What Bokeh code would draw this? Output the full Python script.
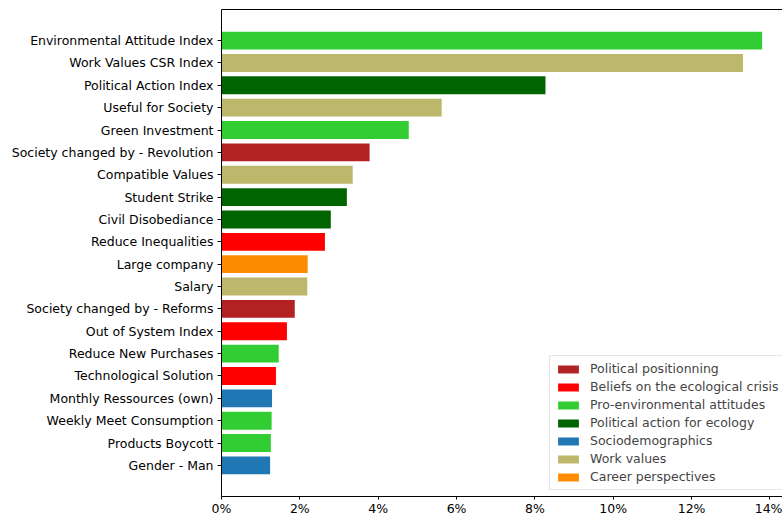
from bokeh.plotting import figure
from bokeh.models import FactorRange, Range1d, FixedTicker, PrintfTickFormatter, LinearAxis, Legend, LegendItem
from bokeh.embed import file_html
from bokeh.resources import INLINE

labels = [
    "Environmental Attitude Index", "Work Values CSR Index", "Political Action Index",
    "Useful for Society", "Green Investment", "Society changed by - Revolution",
    "Compatible Values", "Student Strike", "Civil Disobediance", "Reduce Inequalities",
    "Large company", "Salary", "Society changed by - Reforms", "Out of System Index",
    "Reduce New Purchases", "Technological Solution", "Monthly Ressources (own)",
    "Weekly Meet Consumption", "Products Boycott", "Gender - Man",
]
values = [13.80, 13.31, 8.27, 5.62, 4.78, 3.78, 3.35, 3.20, 2.79, 2.64,
          2.20, 2.19, 1.87, 1.67, 1.46, 1.39, 1.29, 1.28, 1.26, 1.24]
groups = [
    "Pro-environmental attitudes", "Work values", "Political action for ecology",
    "Work values", "Pro-environmental attitudes", "Political positionning",
    "Work values", "Political action for ecology", "Political action for ecology",
    "Beliefs on the ecological crisis", "Career perspectives", "Work values",
    "Political positionning", "Beliefs on the ecological crisis",
    "Pro-environmental attitudes", "Beliefs on the ecological crisis",
    "Sociodemographics", "Pro-environmental attitudes", "Pro-environmental attitudes",
    "Sociodemographics",
]
group_order = [
    "Political positionning", "Beliefs on the ecological crisis",
    "Pro-environmental attitudes", "Political action for ecology",
    "Sociodemographics", "Work values", "Career perspectives",
]
group_colors = ["#b22222", "#ff0000", "#32cd32", "#006400", "#1f77b4", "#bdb76b", "#ff8c00"]
x_ticks = [0, 2, 4, 6, 8, 10, 12, 14]

FONT = "DejaVu Sans"
FS = "12.5px"

y_range = FactorRange(factors=list(reversed(labels)), range_padding=0.89,
                      range_padding_units="absolute")
p = figure(width=782, height=518, y_range=y_range, x_range=Range1d(0, 14.32),
           output_backend="svg", toolbar_location=None,
           min_border_left=221, min_border_right=0, min_border_top=9, min_border_bottom=0)

items = []
for g, c in zip(group_order, group_colors):
    ys = [l for l, gg in zip(labels, groups) if gg == g]
    xs = [v for v, gg in zip(values, groups) if gg == g]
    r = p.hbar(y=ys, right=xs, left=0, height=0.8, fill_color=c, line_color=None)
    items.append(LegendItem(label=g, renderers=[r]))

p.grid.visible = False
p.outline_line_color = None
p.background_fill_color = "white"

p.xaxis.ticker = FixedTicker(ticks=x_ticks)
p.xaxis.formatter = PrintfTickFormatter(format="%d%%")
for ax in (p.xaxis[0], p.yaxis[0]):
    ax.axis_line_color = "black"
    ax.axis_line_width = 1
    ax.major_tick_line_color = "black"
    ax.major_tick_in = 0
    ax.major_tick_out = 4
    ax.minor_tick_line_color = None
    ax.major_label_text_font = FONT
    ax.major_label_text_font_size = FS
    ax.major_label_text_color = "black"
    ax.major_label_standoff = 4
p.xaxis.major_tick_out = 3
p.xaxis.major_label_standoff = 1

top = LinearAxis(ticker=FixedTicker(ticks=[]), axis_line_color="black",
                 major_tick_line_color=None, minor_tick_line_color=None,
                 major_tick_out=0, major_tick_in=0, major_label_standoff=0)
p.add_layout(top, "above")

legend = Legend(items=items, location=(328, 6), label_text_font=FONT,
                label_text_font_size=FS, glyph_width=26, glyph_height=10,
                label_height=10, spacing=3, padding=5, margin=0, label_standoff=9,
                border_line_color="#cccccc", border_line_width=1,
                background_fill_alpha=0.8)
p.add_layout(legend, "center")

open("out.html", "w").write(file_html(p, INLINE))
